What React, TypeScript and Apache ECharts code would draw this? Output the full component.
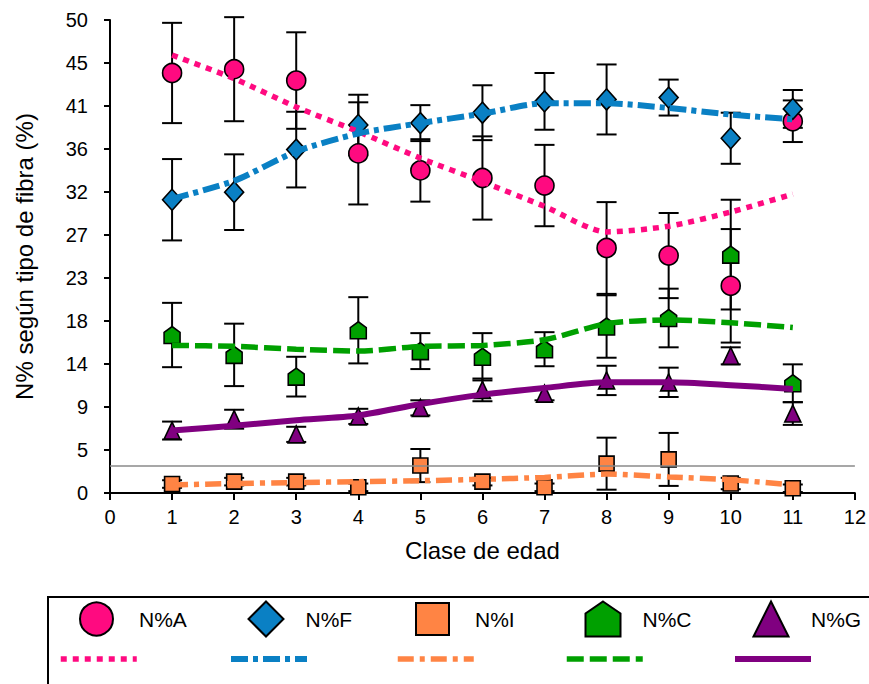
import React, { useEffect, useRef } from "react";
import * as echarts from "echarts";

// ---- Data ----
const ages = [1, 2, 3, 4, 5, 6, 7, 8, 9, 10, 11];

const aMean = [44.4, 44.8, 43.6, 35.9, 34.1, 33.3, 32.5, 25.9, 25.1, 21.9, 39.3];
const aErr = [5.3, 5.5, 5.1, 5.4, 3.3, 4.4, 4.3, 4.85, 4.5, 6.0, 2.2];
const aFit = [46.3, 43.8, 40.8, 38.2, 35.4, 32.9, 30.3, 27.6, 28.2, 29.7, 31.6];

const fMean = [31.0, 31.8, 36.3, 38.9, 39.1, 40.2, 41.4, 41.6, 41.8, 37.5, 40.6];
const fErr = [4.3, 4.0, 4.0, 3.2, 1.9, 2.9, 3.0, 3.7, 1.9, 2.7, 2.0];
const fFit = [31.1, 33.0, 36.1, 38.0, 39.1, 40.1, 41.2, 41.2, 40.7, 40.0, 39.5];

const iMean = [0.95, 1.2, 1.2, 0.6, 2.9, 1.2, 0.6, 3.1, 3.55, 1.0, 0.5];
const iErr = [0.4, 0.4, 0.4, 0.4, 1.75, 0.4, 0.4, 2.75, 2.8, 0.6, 0.4];
const iFit = [0.85, 1.0, 1.1, 1.2, 1.3, 1.45, 1.65, 2.0, 1.7, 1.4, 0.85];

const cMean = [16.7, 14.6, 12.3, 17.2, 15.0, 14.4, 15.2, 17.6, 18.5, 25.2, 11.6];
const cErr = [3.4, 3.3, 2.1, 3.5, 1.9, 2.5, 1.8, 3.3, 3.1, 5.8, 2.0];
const cFit = [15.6, 15.5, 15.2, 15.0, 15.5, 15.6, 16.2, 17.9, 18.3, 18.0, 17.5];

const gMean = [6.6, 7.8, 6.2, 8.1, 9.0, 10.9, 10.5, 11.9, 11.7, 14.5, 8.4];
const gErr = [0.95, 1.0, 0.8, 0.8, 0.8, 1.2, 0.7, 1.55, 1.55, 0.9, 1.2];
const gFit = [6.6, 7.1, 7.7, 8.2, 9.4, 10.4, 11.1, 11.7, 11.7, 11.4, 11.0];

const referenceValue = 2.9;

const seriesNames = ["N%A", "N%F", "N%I", "N%C", "N%G"];
const fitNames = ["N%A ajuste", "N%F ajuste", "N%I ajuste", "N%C ajuste", "N%G ajuste"];

const xAxisTitle = "Clase de edad";
const yAxisTitle = "N% según tipo de fibra (%)";

// ---- Styles ----
const FONT = "'Liberation Sans', Arial, sans-serif";
const PENTAGON = "path://M8,0 L16,5.5 L16,16 L0,16 L0,5.5 Z";

const groups = [
  { name: seriesNames[0], fit: fitNames[0], mean: aMean, err: aErr, curve: aFit, color: "#FF0A80", symbol: "circle", size: 19, dash: [6, 6], lw: 5.5 },
  { name: seriesNames[1], fit: fitNames[1], mean: fMean, err: fErr, curve: fFit, color: "#0A80C4", symbol: "diamond", size: [19, 21], dash: [17, 5, 5, 5], lw: 6 },
  { name: seriesNames[2], fit: fitNames[2], mean: iMean, err: iErr, curve: iFit, color: "#FF8444", symbol: "rect", size: 15, dash: [16, 6, 5, 6], lw: 5.5 },
  { name: seriesNames[3], fit: fitNames[3], mean: cMean, err: cErr, curve: cFit, color: "#00A000", symbol: PENTAGON, size: [16, 17], dash: [17, 6], lw: 5.5 },
  { name: seriesNames[4], fit: fitNames[4], mean: gMean, err: gErr, curve: gFit, color: "#800080", symbol: "triangle", size: [16, 17], dash: "solid", lw: 6 },
];

function errorBars(g: any) {
  return {
    type: "custom",
    name: g.name + " error",
    silent: true,
    data: ages.map((x, i) => [x, g.mean[i] - g.err[i], g.mean[i] + g.err[i]]),
    encode: { x: 0, y: [1, 2] },
    renderItem: (params: any, api: any) => {
      const x = api.value(0);
      const lo = api.coord([x, api.value(1)]);
      const hi = api.coord([x, api.value(2)]);
      const half = 10;
      const style = { stroke: "#000", lineWidth: 2, fill: "none" };
      return {
        type: "group",
        children: [
          { type: "line", shape: { x1: lo[0], y1: lo[1], x2: hi[0], y2: hi[1] }, style },
          { type: "line", shape: { x1: hi[0] - half, y1: hi[1], x2: hi[0] + half, y2: hi[1] }, style },
          { type: "line", shape: { x1: lo[0] - half, y1: lo[1], x2: lo[0] + half, y2: lo[1] }, style },
        ],
      };
    },
  };
}

function buildSeries() {
  const out: any[] = [];
  groups.forEach((g, gi) => {
    out.push(errorBars(g));
    out.push({
      type: "scatter",
      name: g.name,
      data: ages.map((x, i) => [x, g.mean[i]]),
      symbol: g.symbol,
      symbolSize: g.size,
      itemStyle: { color: g.color, borderColor: "#000", borderWidth: 1.6, opacity: 1 },
      silent: true,
    });
    const line: any = {
      type: "line",
      name: g.fit,
      data: ages.map((x, i) => [x, g.curve[i]]),
      smooth: 0.25,
      symbol: "none",
      showSymbol: false,
      lineStyle: { color: g.color, width: g.lw, type: g.dash, cap: "butt" },
      itemStyle: { color: g.color },
      silent: true,
    };
    if (gi === 2) {
      line.markLine = {
        silent: true,
        symbol: "none",
        label: { show: false },
        lineStyle: { color: "#8a8a8a", width: 1.5, type: "solid" },
        data: [{ yAxis: referenceValue }],
      };
    }
    out.push(line);
  });
  return out;
}

const symbolLegendLayout = [
  { left: 79, w: 33, h: 33, pad: 21 },
  { left: 247.5, w: 35, h: 35, pad: 17 },
  { left: 415, w: 33, h: 32, pad: 21 },
  { left: 584.5, w: 35, h: 35, pad: 17 },
  { left: 752.5, w: 35, h: 35, pad: 17.5 },
];
const lineLegendLeft = [58, 228, 395, 564, 732];

function buildLegends() {
  const legends: any[] = [];
  groups.forEach((g, i) => {
    const L = symbolLegendLayout[i];
    legends.push({
      data: [g.name],
      left: L.left,
      top: 618 - L.h / 2,
      padding: 0,
      itemWidth: L.w,
      itemHeight: L.h,
      selectedMode: false,
      textStyle: { fontSize: 21, color: "#000", fontFamily: FONT, padding: [0, 0, 0, L.pad] },
    });
    legends.push({
      data: [g.fit],
      left: lineLegendLeft[i],
      top: 656,
      padding: 0,
      itemWidth: 76,
      itemHeight: 6,
      selectedMode: false,
      formatter: () => "",
      itemStyle: { opacity: 0 },
      lineStyle: { width: g.lw, type: g.dash, cap: "butt" },
      textStyle: { fontSize: 1 },
    });
  });
  return legends;
}

export default function App() {
  const ref = useRef<HTMLDivElement>(null);
  useEffect(() => {
    if (!ref.current) return;
    const chart = echarts.init(ref.current, undefined, { renderer: "svg" });
    const option: any = {
      animation: false,
      backgroundColor: "#fff",
      textStyle: { fontFamily: FONT },
      grid: { left: 110, right: 10, top: 20, bottom: 191, containLabel: false },
      xAxis: {
        type: "value",
        min: 0,
        max: 12,
        interval: 1,
        name: xAxisTitle,
        nameLocation: "middle",
        nameGap: 45,
        nameTextStyle: { fontSize: 24, color: "#000", fontFamily: FONT },
        axisLine: { onZero: false, lineStyle: { color: "#000", width: 2 } },
        axisTick: { length: 7, lineStyle: { color: "#000", width: 2 } },
        axisLabel: { fontSize: 20, color: "#000", margin: 14, fontFamily: FONT },
        splitLine: { show: false },
      },
      yAxis: {
        type: "value",
        min: 0,
        max: 50,
        interval: 50 / 11,
        offset: 14,
        name: yAxisTitle,
        nameLocation: "middle",
        nameGap: 60,
        nameRotate: 90,
        nameTextStyle: { fontSize: 24, color: "#000", fontFamily: FONT },
        axisLine: { show: true, lineStyle: { color: "#000", width: 2 } },
        axisTick: { show: true, length: 6, lineStyle: { color: "#000", width: 2 } },
        axisLabel: {
          fontSize: 20,
          color: "#000",
          margin: 8,
          fontFamily: FONT,
          formatter: (v: number) => String(Math.round(v)),
        },
        splitLine: { show: false },
      },
      legend: buildLegends(),
      graphic: [
        {
          type: "rect",
          silent: true,
          shape: { x: 48, y: 597, width: 840, height: 120 },
          style: { fill: "none", stroke: "#000", lineWidth: 2 },
        },
      ],
      series: buildSeries(),
    };
    chart.setOption(option);
    return () => chart.dispose();
  }, []);
  return (
    <div
      ref={ref}
      style={{ position: "fixed", left: 0, top: 0, width: 869, height: 684, background: "#fff" }}
    />
  );
}
